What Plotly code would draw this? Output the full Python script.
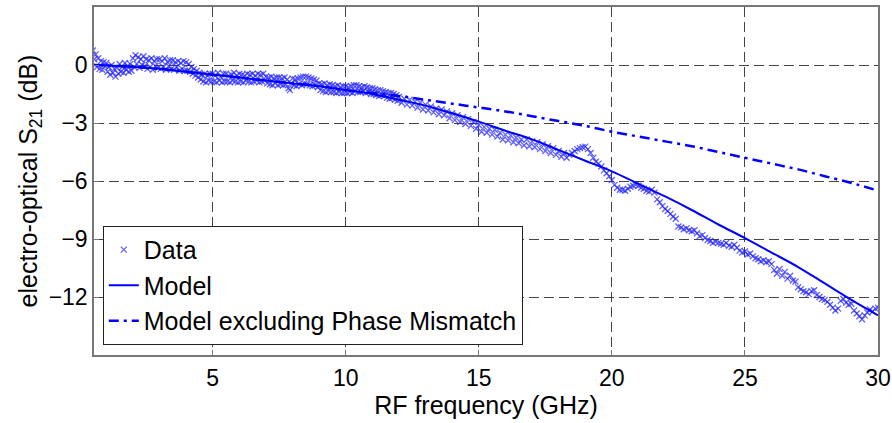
import plotly.graph_objects as go

# ---- Measured data (frequency in GHz, S21 in dB) ----
freq_low = [round(0.5 + 0.05 * i, 2) for i in range(230)]  # 0.50 .. 11.95
s21_low = [
    0.75, 0.30, 0.55, -0.10, 0.35, -0.20, 0.20, -0.25, 0.15, -0.05,
    0.10, -0.35, -0.10, -0.50, 0.00, -0.40, -0.20, -0.60, -0.15, -0.45,
    0.05, -0.35, -0.10, -0.40, 0.10, -0.25, -0.05, -0.35, 0.05, -0.30,
    0.35, -0.10, 0.50, 0.05, 0.40, -0.15, 0.30, 0.00, 0.45, -0.05,
    0.30, -0.20, 0.25, -0.10, 0.35, -0.25, 0.20, -0.05, 0.30, -0.15,
    0.30, -0.20, 0.20, -0.10, 0.35, -0.25, 0.15, -0.05, 0.25, -0.20,
    0.25, -0.25, 0.15, -0.10, 0.20, -0.30, 0.10, -0.20, 0.20, -0.30,
    0.15, -0.30, 0.05, -0.35, -0.10, -0.45, -0.20, -0.55, -0.30, -0.65,
    -0.40, -0.75, -0.50, -0.85, -0.45, -0.90, -0.55, -0.80, -0.45, -0.85,
    -0.45, -0.85, -0.55, -0.90, -0.40, -0.80, -0.60, -0.90, -0.45, -0.85,
    -0.45, -0.85, -0.55, -0.90, -0.50, -0.80, -0.40, -0.85, -0.55, -0.90,
    -0.45, -0.85, -0.50, -0.90, -0.55, -0.80, -0.45, -0.85, -0.50, -0.90,
    -0.45, -0.85, -0.55, -0.80, -0.45, -0.90, -0.50, -0.85, -0.45, -0.80,
    -0.60, -0.95, -0.65, -1.00, -0.60, -1.05, -0.70, -0.95, -0.65, -1.05,
    -0.65, -1.00, -0.70, -1.05, -0.65, -1.00, -0.75, -1.20, -1.30, -0.95,
    -0.70, -1.05, -0.75, -1.10, -0.70, -1.00, -0.65, -1.05, -0.60, -0.95,
    -0.60, -1.00, -0.65, -1.05, -0.70, -1.10, -0.75, -1.05, -0.80, -1.15,
    -0.95, -1.30, -1.00, -1.35, -0.95, -1.40, -1.05, -1.35, -1.00, -1.40,
    -1.05, -1.40, -1.10, -1.45, -1.05, -1.40, -1.15, -1.45, -1.10, -1.45,
    -1.10, -1.45, -1.15, -1.40, -1.10, -1.45, -1.05, -1.35, -1.05, -1.40,
    -1.10, -1.40, -1.15, -1.35, -1.10, -1.45, -1.15, -1.40, -1.20, -1.50,
    -1.20, -1.50, -1.25, -1.55, -1.30, -1.60, -1.30, -1.55, -1.35, -1.60,
    -1.40, -1.70, -1.45, -1.75, -1.45, -1.70, -1.50, -1.80, -1.55, -1.85,
]
freq_high = [round(12.0 + 0.1 * i, 1) for i in range(181)]  # 12.0 .. 30.0
s21_high = [
    -1.65, -1.95, -1.75, -2.05, -1.80, -2.10, -1.90, -2.20, -1.95, -2.30,
    -2.05, -2.35, -2.15, -2.45, -2.25, -2.55, -2.30, -2.60, -2.40, -2.75,
    -2.50, -2.85, -2.60, -2.95, -2.70, -3.05, -2.80, -3.15, -2.95, -3.30,
    -3.10, -3.45, -3.20, -3.50, -3.30, -3.60, -3.35, -3.70, -3.50, -3.85,
    -3.60, -3.90, -3.65, -4.00, -3.75, -4.05, -3.85, -4.15, -3.85, -4.20,
    -3.95, -4.25, -4.00, -4.35, -4.10, -4.45, -4.20, -4.55, -4.30, -4.65,
    -4.45, -4.75, -4.55, -4.80, -4.65, -4.55, -4.45, -4.35, -4.30, -4.25,
    -4.22, -4.35, -4.55, -4.80, -5.00, -5.10, -5.25, -5.45, -5.60, -5.75,
    -5.95, -6.20, -6.35, -6.45, -6.45, -6.50, -6.40, -6.30, -6.25, -6.20,
    -6.25, -6.35, -6.40, -6.50, -6.55, -6.45, -6.60, -6.95, -7.10, -7.30,
    -7.45, -7.55, -7.70, -7.85, -7.95, -8.35, -8.40, -8.50, -8.45, -8.55,
    -8.60, -8.55, -8.70, -8.85, -8.80, -8.95, -9.05, -9.10, -9.20, -9.15,
    -9.20, -9.25, -9.30, -9.20, -9.35, -9.40, -9.30, -9.45, -9.60, -9.70,
    -9.65, -9.80, -9.75, -9.90, -10.00, -10.05, -10.15, -10.10, -10.20, -10.15,
    -10.30, -10.60, -10.80, -10.55, -10.90, -10.70, -11.05, -10.90, -11.15, -11.20,
    -11.50, -11.60, -11.70, -11.75, -11.85, -11.70, -11.65, -11.90, -12.00, -12.10,
    -12.15, -12.25, -12.40, -12.55, -12.70, -12.60, -12.20, -12.10, -12.30, -12.40,
    -12.35, -12.70, -12.85, -13.00, -13.15, -12.95, -12.80, -12.65, -12.75, -12.60,
    -12.55,
]
data_freq = freq_low + freq_high
data_s21 = s21_low + s21_high

# ---- Model curves ----
model_freq = [0.5, 1, 2, 3, 4, 5, 6, 7, 8, 9, 10, 11, 12, 13, 14, 15, 16, 17, 18, 19,
              20, 21, 22, 23, 24, 25, 26, 27, 28, 29, 30]
model_s21 = [0.0, -0.02, -0.1, -0.2, -0.35, -0.5, -0.65, -0.8, -0.95, -1.1,
             -1.3, -1.5, -1.8, -2.1, -2.5, -2.93, -3.4, -3.85, -4.4, -4.95,
             -5.5, -6.15, -6.8, -7.5, -8.25, -8.95, -9.7, -10.45, -11.3, -12.15, -12.95]
model_nopm_s21 = [0.0, -0.02, -0.1, -0.2, -0.35, -0.5, -0.65, -0.8, -0.95, -1.1,
                  -1.3, -1.45, -1.6, -1.8, -2.0, -2.2, -2.4, -2.65, -2.9, -3.15,
                  -3.45, -3.7, -3.95, -4.2, -4.5, -4.8, -5.1, -5.4, -5.75, -6.1, -6.5]

x_ticks = [5, 10, 15, 20, 25, 30]
y_ticks = [0, -3, -6, -9, -12]

FONT = "Liberation Sans, Arial, Helvetica, sans-serif"

fig = go.Figure()
fig.add_trace(go.Scatter(
    x=data_freq, y=data_s21, mode="markers", name="Data",
    marker=dict(symbol="x-thin", size=6, line=dict(width=1.3, color="rgba(30,30,255,0.7)"),
                color="rgba(30,30,255,0.7)"),
))
fig.add_trace(go.Scatter(
    x=model_freq, y=model_s21, mode="lines", name="Model",
    line=dict(color="#0000ff", width=2, shape="spline"),
))
fig.add_trace(go.Scatter(
    x=model_freq, y=model_nopm_s21, mode="lines", name="Model excluding Phase Mismatch",
    line=dict(color="#0000ff", width=2.5, dash="10px,5px,3px,5px", shape="spline"),
))

axis_common = dict(
    showgrid=True, gridcolor="#444444", gridwidth=1, griddash="10px,5px",
    showline=True, linecolor="#777777", linewidth=1.5, mirror=True,
    ticks="inside", ticklen=5, tickcolor="#777777",
    tickfont=dict(family=FONT, size=23, color="black"),
    zeroline=False, automargin=False,
)

fig.update_layout(
    width=892, height=423,
    margin=dict(l=94, r=14, t=7, b=68),
    paper_bgcolor="white", plot_bgcolor="white",
    font=dict(family=FONT, color="black"),
    xaxis=dict(range=[0.54, 30], tickvals=x_ticks, ticklabelstandoff=2,
               title=dict(text="RF frequency (GHz)", font=dict(family=FONT, size=25), standoff=2),
               **axis_common),
    yaxis=dict(range=[-15, 3], tickvals=y_ticks, ticklabelstandoff=0,
               title=dict(text="electro-optical S<sub>21</sub> (dB)", font=dict(family=FONT, size=25), standoff=4),
               **axis_common),
    legend=dict(x=0.0112, y=0.371, xanchor="left", yanchor="top",
                bgcolor="white", bordercolor="#222222", borderwidth=1,
                font=dict(family=FONT, size=25), tracegroupgap=0),
    showlegend=True,
)

fig.write_html("out.html", config={"displayModeBar": False},
               post_script="document.body.style.margin='0px';")
